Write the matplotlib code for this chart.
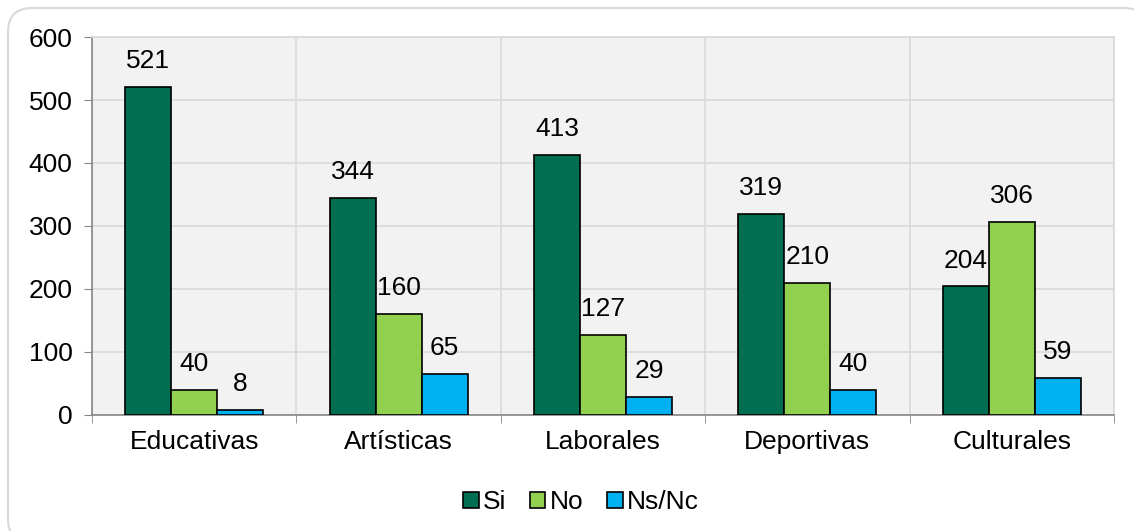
import numpy as np
import matplotlib
matplotlib.use('Agg')
import matplotlib.pyplot as plt
from matplotlib.patches import FancyBboxPatch

# Chart data:
categories = ['Educativas', 'Artísticas', 'Laborales', 'Deportivas', 'Culturales']
series_names = ['Si', 'No', 'Ns/Nc']
si_values = [521, 344, 413, 319, 204]
no_values = [40, 160, 127, 210, 306]
nsnc_values = [8, 65, 29, 40, 59]
y_ticks = [0, 100, 200, 300, 400, 500, 600]

colors = ['#006E51', '#92D050', '#00B0F0']

plt.rcParams['font.family'] = ['Liberation Sans', 'DejaVu Sans']

fig = plt.figure(figsize=(11.34, 5.31), dpi=100)
ax = fig.add_axes([0.0811, 0.2185, 0.9013, 0.7118])

# Rounded outer frame (pixel coordinates):
frame = FancyBboxPatch((8, -12), 1140, 535, boxstyle='round,pad=0,rounding_size=24',
                       transform=None, facecolor='white', edgecolor='#d9d9d9',
                       linewidth=1.5, zorder=-10)
fig.patches.append(frame)

x = np.arange(len(categories))
width = 0.225
all_series = [si_values, no_values, nsnc_values]

for i, (vals, name) in enumerate(zip(all_series, series_names)):
    pos = x + (i - 1) * width
    bars = ax.bar(pos, vals, width, color=colors[i], edgecolor='black', linewidth=1.2,
                  label=name, zorder=3)
    for b, v in zip(bars, vals):
        ax.annotate(str(v), (b.get_x() + b.get_width() / 2, v), xytext=(0, 10),
                    textcoords='offset points', ha='center', va='bottom', fontsize=19)

ax.set_facecolor('#f2f2f2')
ax.set_xlim(-0.5, len(categories) - 0.5)
ax.set_ylim(0, 600)
ax.set_yticks(y_ticks)
ax.tick_params(axis='y', labelsize=19, length=6, color='#868686', pad=8)

# Category labels centered, ticks at boundaries:
ax.set_xticks(x)
ax.set_xticklabels(categories, fontsize=19)
ax.tick_params(axis='x', which='major', length=0, pad=11)
ax.set_xticks(np.arange(-0.5, len(categories)), minor=True)
ax.tick_params(axis='x', which='minor', length=6, color='#868686')

ax.grid(True, axis='y', color='#d9d9d9', linewidth=1.2, zorder=0)
ax.grid(True, axis='x', which='minor', color='#d9d9d9', linewidth=1.2, zorder=0)
ax.grid(False, axis='x', which='major')
ax.set_axisbelow(True)

ax.spines['top'].set_color('#d9d9d9')
ax.spines['right'].set_color('#d9d9d9')
ax.spines['left'].set_color('#868686')
ax.spines['bottom'].set_color('#868686')
for side in ax.spines:
    ax.spines[side].set_linewidth(1.2)

leg = fig.legend(loc='center', bbox_to_anchor=(0.512, 0.054), ncol=3, frameon=False,
                 fontsize=19, handlelength=0.6, handleheight=0.6, handletextpad=0.15,
                 columnspacing=0.9)

fig.savefig('out.png', dpi=100)
